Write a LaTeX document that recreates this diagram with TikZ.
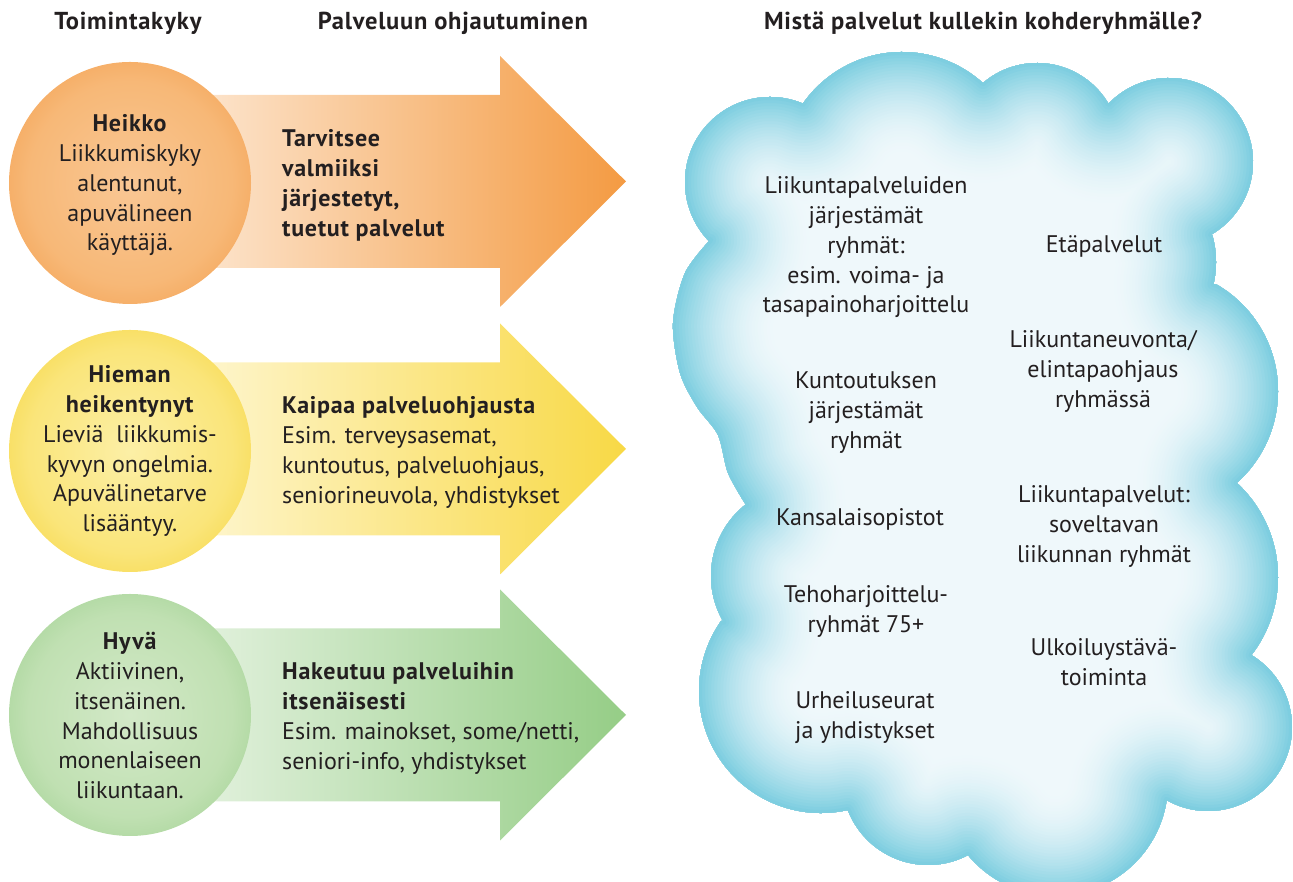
\documentclass[tikz,border=0pt]{standalone}
\usepackage{fontspec}
\setmainfont{PT Sans}[BoldFeatures={LetterSpace=3}]
\definecolor{ink}{HTML}{231F20}
\definecolor{cedge}{HTML}{78CCDF}
\definecolor{cfill}{HTML}{EFF8FB}
% arrow colours
\definecolor{oL}{HTML}{FEF3E8}\definecolor{oR}{HTML}{F28C27}
\definecolor{yL}{HTML}{FFFBE8}\definecolor{yR}{HTML}{F7D32A}
\definecolor{gL}{HTML}{F1F8EE}\definecolor{gR}{HTML}{86C675}
% ball colours
\definecolor{ob0}{HTML}{F9C794}\definecolor{ob1}{HTML}{F7B877}\definecolor{ob2}{HTML}{F4A65A}\definecolor{ob3}{HTML}{EF8A2E}
\definecolor{yb0}{HTML}{FCEFA6}\definecolor{yb1}{HTML}{FAE57A}\definecolor{yb2}{HTML}{F7DA52}\definecolor{yb3}{HTML}{F3CD2C}
\definecolor{gb0}{HTML}{D3E9C8}\definecolor{gb1}{HTML}{C0E0B2}\definecolor{gb2}{HTML}{A8D59A}\definecolor{gb3}{HTML}{8CC57E}
\pgfdeclarehorizontalshading{arrOrange}{100bp}{color(0bp)=(oL); color(15bp)=(oL); color(85bp)=(oR); color(100bp)=(oR)}
\pgfdeclarehorizontalshading{arrYellow}{100bp}{color(0bp)=(yL); color(15bp)=(yL); color(85bp)=(yR); color(100bp)=(yR)}
\pgfdeclarehorizontalshading{arrGreen}{100bp}{color(0bp)=(gL); color(15bp)=(gL); color(85bp)=(gR); color(100bp)=(gR)}
\pgfdeclareradialshading{ballOrange}{\pgfpoint{0bp}{0bp}}{color(0bp)=(ob0); color(21bp)=(ob1); color(29.5bp)=(ob2); color(35.3bp)=(ob3); color(50bp)=(ob3)}
\pgfdeclareradialshading{ballYellow}{\pgfpoint{0bp}{0bp}}{color(0bp)=(yb0); color(21bp)=(yb1); color(29.5bp)=(yb2); color(35.3bp)=(yb3); color(50bp)=(yb3)}
\pgfdeclareradialshading{ballGreen}{\pgfpoint{0bp}{0bp}}{color(0bp)=(gb0); color(21bp)=(gb1); color(29.5bp)=(gb2); color(35.3bp)=(gb3); color(50bp)=(gb3)}
\begin{document}
\begin{tikzpicture}[x=1pt,y=1pt,
  body/.style={font=\fontsize{24}{29.7}\selectfont, text=ink, inner sep=0pt},
  ctext/.style={body, align=center, anchor=north},
  ltext/.style={body, align=left, anchor=north west},
  head/.style={font=\bfseries\fontsize{24.5}{28}\selectfont, text=ink, inner sep=0pt, anchor=base}]
\useasboundingbox (0,0) rectangle (1293,882);

% ---------- headers ----------
\node[head] (h1) at (128,852) {Toimintakyky};
\node[head] (h2) at (453,852) {Palveluun ohjautuminen};
\node[head] (h3) at (983,852) {Mistä palvelut kullekin kohderyhmälle?};

% ---------- arrows ----------
\shade[shading=arrOrange] (200,787) -- (500,787) -- (500,826) -- (626,700.5) -- (500,575) -- (500,614) -- (200,614) -- cycle;
\shade[shading=arrYellow] (200,519.5) -- (500,519.5) -- (500,558.5) -- (626,433) -- (500,307.5) -- (500,346.5) -- (200,346.5) -- cycle;
\shade[shading=arrGreen] (200,253.5) -- (500,253.5) -- (500,292.5) -- (626,167) -- (500,41.5) -- (500,80.5) -- (200,80.5) -- cycle;

% ---------- balls ----------
\shade[shading=ballOrange] (130,699) circle[radius=121pt];
\shade[shading=ballYellow] (130,431) circle[radius=121pt];
\shade[shading=ballGreen] (130,167) circle[radius=121pt];

\node[ctext] (c1) at (130,771) {\strut\textbf{Heikko}\\Liikkumiskyky\\alentunut,\\apuvälineen\\käyttäjä.};
\node[ctext] (c2) at (130,520) {\strut\textbf{Hieman}\\\textbf{heikentynyt}\\Lieviä\ \ liikkumis-\\kyvyn ongelmia.\\Apuvälinetarve\\lisääntyy.};
\node[ctext] (c3) at (130,253) {\strut\textbf{Hyvä}\\Aktiivinen,\\itsenäinen.\\Mahdollisuus\\monenlaiseen\\liikuntaan.};

\node[ltext] (a1) at (282,756) {\strut\textbf{Tarvitsee}\\\textbf{valmiiksi}\\\textbf{järjestetyt,}\\\textbf{tuetut palvelut}};
\node[ltext] (a2) at (282,489) {\strut\textbf{Kaipaa palveluohjausta}\\Esim. terveysasemat,\\kuntoutus, palveluohjaus,\\seniorineuvola, yhdistykset};
\node[ltext] (a3) at (282,223) {\strut\textbf{Hakeutuu palveluihin}\\\textbf{itsenäisesti}\\Esim. mainokset, some/netti,\\seniori-info, yhdistykset};

% ---------- cloud ----------
\path[save path=\cloudp]
 ([shift={(224:85)}]770,700) arc[start angle=224, end angle=67, radius=85pt]
 -- ([shift={(144.7:121)}]902,709) arc[start angle=144.7, end angle=48, radius=121pt]
 -- ([shift={(130.6:83)}]1037,736) arc[start angle=130.6, end angle=31.2, radius=83pt]
 -- ([shift={(136:84)}]1169,720) arc[start angle=136, end angle=-60, radius=84pt]
 -- ([shift={(16:98)}]1118,620) arc[start angle=16, end angle=-13, radius=98pt]
 -- ([shift={(59.7:123)}]1155,491) arc[start angle=59.7, end angle=-48.3, radius=123pt]
 -- ([shift={(47.2:128)}]1150,305) arc[start angle=47.2, end angle=-37.4, radius=128pt]
 -- ([shift={(58.6:84)}]1208,155) arc[start angle=58.6, end angle=-118.7, radius=84pt]
 -- ([shift={(-8.6:113)}]1055,99) arc[start angle=-8.6, end angle=-140.4, radius=113pt]
 -- ([shift={(-62.2:86)}]928,103) arc[start angle=-62.2, end angle=-157.6, radius=86pt]
 -- ([shift={(-77.4:122)}]821,191) arc[start angle=-77.4, end angle=-215.1, radius=122pt]
 -- ([shift={(210.2:91)}]802,306) arc[start angle=210.2, end angle=128.3, radius=91pt]
 -- plot[smooth] coordinates {(746,377) (728,409) (718,447) (697,475) (680,509) (673,559) (685,609) (710,642)}
 -- cycle;
\fill[cfill, use path=\cloudp];
\begin{scope}
\clip[use path=\cloudp];
\foreach \i in {34,33,...,1}{
  \pgfmathsetmacro\w{2*\i*3}
  \pgfmathsetmacro\p{100*(1-\i/35)^1.8}
  \draw[use path=\cloudp, line width=\w pt, line join=round, color=cedge!\p!cfill];
}
\end{scope}

\node[ctext] (k1) at (866,709) {\strut Liikuntapalveluiden\\järjestämät\\ryhmät:\\esim. voima- ja\\tasapainoharjoittelu};
\node[ctext] (k2) at (1104,650) {\strut Etäpalvelut};
\node[ctext] (k3) at (1103,555) {\strut Liikuntaneuvonta/\\elintapaohjaus\\ryhmässä};
\node[ctext] (k4) at (866,514) {\strut Kuntoutuksen\\järjestämät\\ryhmät};
\node[ctext] (k5) at (860,377) {\strut Kansalaisopistot};
\node[ctext] (k6) at (1104,400) {\strut Liikuntapalvelut:\\soveltavan\\liikunnan ryhmät};
\node[ctext] (k7) at (866,300) {\strut Tehoharjoittelu-\\ryhmät 75+};
\node[ctext] (k8) at (1104,247) {\strut Ulkoiluystävä-\\toiminta};
\node[ctext] (k9) at (865,194) {\strut Urheiluseurat\\ja yhdistykset};
\end{tikzpicture}
\end{document}
